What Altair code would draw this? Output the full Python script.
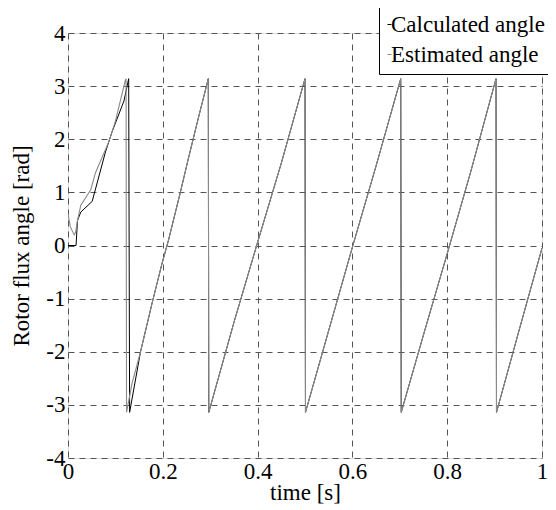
import altair as alt
import pandas as pd

# Calculated angle (dark line)
calc_t = [0.000, 0.017, 0.020, 0.027, 0.051, 0.079, 0.093, 0.118, 0.128, 0.130,
          0.153, 0.177, 0.198, 0.212, 0.237, 0.254, 0.275, 0.296,
          0.297, 0.350, 0.398, 0.450, 0.500,
          0.501, 0.550, 0.601, 0.650, 0.702,
          0.703, 0.750, 0.805, 0.850, 0.903,
          0.904, 0.950, 1.000]
calc_v = [0.00, 0.00, 0.47, 0.63, 0.83, 1.76, 2.14, 2.72, 3.14, -3.14,
          -2.00, -1.10, -0.35, 0.10, 1.00, 1.64, 2.40, 3.14,
          -3.14, -1.45, 0.00, 1.55, 3.14,
          -3.14, -1.60, 0.00, 1.50, 3.14,
          -3.14, -1.68, 0.00, 1.40, 3.14,
          -3.14, -1.65, -0.05]

# Estimated angle (gray line)
est_t = [0.000, 0.005, 0.013, 0.016, 0.020, 0.027, 0.048, 0.058, 0.086, 0.100, 0.121, 0.1225, 0.1235,
         0.135, 0.153, 0.177, 0.198, 0.212, 0.237, 0.254, 0.275, 0.296,
         0.297, 0.350, 0.398, 0.450, 0.500,
         0.501, 0.550, 0.601, 0.650, 0.702,
         0.703, 0.750, 0.805, 0.850, 0.903,
         0.904, 0.950, 1.000]
est_v = [0.60, 0.35, 0.20, 0.25, 0.47, 0.76, 1.05, 1.37, 1.95, 2.34, 3.11, 3.14, -3.14,
         -2.60, -2.00, -1.10, -0.35, 0.10, 1.00, 1.64, 2.40, 3.14,
         -3.14, -1.45, 0.00, 1.55, 3.14,
         -3.14, -1.60, 0.00, 1.50, 3.14,
         -3.14, -1.68, 0.00, 1.40, 3.14,
         -3.14, -1.65, -0.05]

series_names = ["Calculated angle", "Estimated angle"]
series_colors = ["#000000", "#8a8a8a"]
x_ticks = [0, 0.2, 0.4, 0.6, 0.8, 1]
y_ticks = [-4, -3, -2, -1, 0, 1, 2, 3, 4]

df_calc = pd.DataFrame({"t": calc_t, "v": calc_v, "series": series_names[0], "i": range(len(calc_t))})
df_est = pd.DataFrame({"t": est_t, "v": est_v, "series": series_names[1], "i": range(len(est_t))})

FONT = "Liberation Serif"
FS = 23

x_enc = alt.X("t:Q", scale=alt.Scale(domain=[0, 1], nice=False, zero=False),
              axis=alt.Axis(values=x_ticks, title="time [s]", labelExpr="'' + datum.value",
                            grid=True, gridDash=[6, 5], gridColor="#555555", gridWidth=1,
                            ticks=False, domain=False, labelPadding=2,
                            titlePadding={"expr": "-2"},
                            labelFont=FONT, labelFontSize=FS, labelColor="black",
                            titleFont=FONT, titleFontSize=FS, titleFontWeight="normal",
                            titleColor="black", labelFlush=False))
y_enc = alt.Y("v:Q", scale=alt.Scale(domain=[-4, 4], nice=False, zero=False),
              axis=alt.Axis(values=y_ticks, title="Rotor flux angle [rad]", labelExpr="'' + datum.value",
                            grid=True, gridDash=[6, 5], gridColor="#555555", gridWidth=1,
                            ticks=False, domain=False, labelPadding=3, titlePadding=12,
                            labelFont=FONT, labelFontSize=FS, labelColor="black",
                            titleFont=FONT, titleFontSize=FS, titleFontWeight="normal",
                            titleColor="black", labelFlush=False))
color_enc = alt.Color("series:N",
                      scale=alt.Scale(domain=series_names, range=series_colors),
                      legend=alt.Legend(title=None, orient="none", legendX=311, legendY=-27,
                                        strokeColor="black", fillColor="white", padding=7,
                                        symbolType="stroke", symbolSize=16, symbolStrokeWidth=1,
                                        symbolOffset={"expr": "-8"},
                                        labelFont=FONT, labelFontSize=FS, labelColor="black",
                                        rowPadding=6, labelOffset={"expr": "-10"},
                                        labelLimit=0, cornerRadius=0))

calc = alt.Chart(df_calc).mark_line(strokeWidth=1, clip=True).encode(
    x=x_enc, y=y_enc, color=color_enc, order="i:Q")
est = alt.Chart(df_est).mark_line(strokeWidth=1.1, clip=True).encode(
    x=x_enc, y=y_enc, color=color_enc, order="i:Q")

chart = alt.layer(calc, est).properties(
    width=474, height=425,
    autosize=alt.AutoSizeParams(type="none"),
    padding={"left": 60, "top": 25, "right": 6, "bottom": 47},
).configure_view(stroke="black", strokeWidth=1).configure(background="white")

chart.save("out.html", embed_options={"renderer": "svg", "actions": False})
